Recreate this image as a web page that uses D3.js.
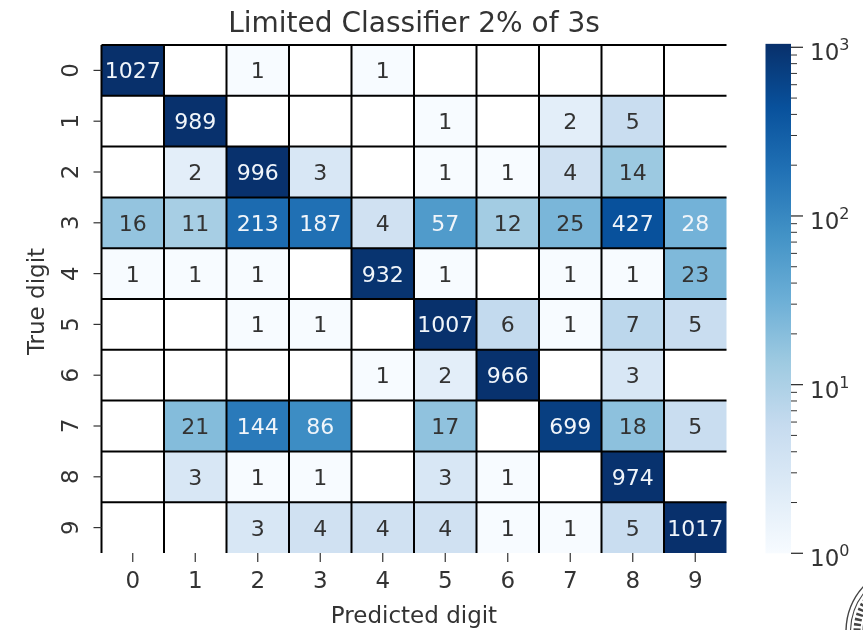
<!DOCTYPE html>
<html><head><meta charset="utf-8">
<script src="https://cdn.jsdelivr.net/npm/d3@7"></script>
<style>html,body{margin:0;padding:0;background:#fff}svg{display:block;filter:blur(0.6px)}text{font-family:"DejaVu Sans",sans-serif;fill:#333}</style>
</head><body><svg id="c" width="863" height="630"></svg>
<script>
const digits=["0","1","2","3","4","5","6","7","8","9"];
const row0=[1027,0,1,0,1,0,0,0,0,0];
const row1=[0,989,0,0,0,1,0,2,5,0];
const row2=[0,2,996,3,0,1,1,4,14,0];
const row3=[16,11,213,187,4,57,12,25,427,28];
const row4=[1,1,1,0,932,1,0,1,1,23];
const row5=[0,0,1,1,0,1007,6,1,7,5];
const row6=[0,0,0,0,1,2,966,0,3,0];
const row7=[0,21,144,86,0,17,0,699,18,5];
const row8=[0,3,1,1,0,3,1,0,974,0];
const row9=[0,0,3,4,4,4,1,1,5,1017];
const rows=[row0,row1,row2,row3,row4,row5,row6,row7,row8,row9];
const blues=["#f7fbff","#deebf7","#c6dbef","#9ecae1","#6baed6","#4292c6","#2171b5","#08519c","#08306b"];
const ramp=d3.scaleLinear().domain(blues.map((_,i)=>i/8)).range(blues).interpolate(d3.interpolateRgb);
const vmax=1027;
const norm=d3.scaleLog().domain([1,vmax]).range([0,1]);
const svg=d3.select("#c");
const L=101.5,R=726.5,T=45,B=553;
const x=d3.scaleBand().domain(digits).range([L,R]);
const y=d3.scaleBand().domain(digits).range([T,B]);
const cells=[];
rows.forEach((r,i)=>r.forEach((v,j)=>cells.push({i,j,v})));
svg.append("g").selectAll("rect").data(cells.filter(d=>d.v>0)).join("rect")
 .attr("x",d=>x(digits[d.j])).attr("y",d=>y(digits[d.i]))
 .attr("width",x.bandwidth()).attr("height",y.bandwidth())
 .attr("fill",d=>ramp(norm(d.v)));
const grid=svg.append("g").attr("stroke","#000").attr("stroke-width",2);
d3.range(0,10).forEach(k=>{
  const yy=T+k*y.step(), xx=L+k*x.step();
  grid.append("line").attr("x1",L).attr("x2",R).attr("y1",yy).attr("y2",yy);
  grid.append("line").attr("x1",xx).attr("x2",xx).attr("y1",T).attr("y2",B);
});
svg.append("g").selectAll("text").data(cells.filter(d=>d.v>0)).join("text")
 .attr("x",d=>x(digits[d.j])+x.bandwidth()/2).attr("y",d=>y(digits[d.i])+y.bandwidth()/2)
 .attr("dy","0.36em").attr("text-anchor","middle").attr("font-size",22)
 .style("fill",d=>norm(d.v)>0.47?"#f0f5fa":"#333").text(d=>d.v);
const ticks=svg.append("g").attr("stroke","#333").attr("stroke-width",1.2);
digits.forEach(d=>{
  const cx=x(d)+x.bandwidth()/2, cy=y(d)+y.bandwidth()/2;
  ticks.append("line").attr("x1",cx).attr("x2",cx).attr("y1",B).attr("y2",B+9);
  ticks.append("line").attr("x1",L-8).attr("x2",L).attr("y1",cy).attr("y2",cy);
  svg.append("text").attr("x",cx).attr("y",B+27).attr("dy","0.36em").attr("text-anchor","middle").attr("font-size",23).text(d);
  svg.append("text").attr("transform",`translate(70,${cy}) rotate(-90)`).attr("dy","0.36em").attr("text-anchor","middle").attr("font-size",23).text(d);
});
svg.append("text").attr("x",414).attr("y",32).attr("text-anchor","middle").attr("font-size",28).text("Limited Classifier 2% of 3s");
svg.append("text").attr("x",414).attr("y",623).attr("text-anchor","middle").attr("font-size",23).text("Predicted digit");
svg.append("text").attr("transform","translate(44,301.5) rotate(-90)").attr("text-anchor","middle").attr("font-size",23).text("True digit");
// colorbar
const cbX=765.5,cbW=25.5;
const cb=d3.scaleLog().domain([1,1000]).range([553.3,47.3]);
const cbT=cb(vmax)-1.5,cbB=cb(1);
const g=svg.append("defs").append("linearGradient").attr("id","cb").attr("x1",0).attr("x2",0).attr("y1",1).attr("y2",0);
blues.forEach((c,i)=>g.append("stop").attr("offset",i/8).attr("stop-color",c));
svg.append("rect").attr("x",cbX).attr("y",cbT).attr("width",cbW).attr("height",cbB-cbT).attr("fill","url(#cb)");
const majors=[1,10,100,1000];
const minors=[2,3,4,5,6,7,8,9,20,30,40,50,60,70,80,90,200,300,400,500,600,700,800,900];
const ct=svg.append("g").attr("stroke","#333");
minors.forEach(v=>ct.append("line").attr("x1",cbX+cbW).attr("x2",cbX+cbW+6).attr("y1",cb(v)).attr("y2",cb(v)).attr("stroke-width",1));
majors.forEach((v,i)=>{
  ct.append("line").attr("x1",cbX+cbW).attr("x2",cbX+cbW+12).attr("y1",cb(v)).attr("y2",cb(v)).attr("stroke-width",1.3);
  const t=svg.append("text").attr("x",810).attr("y",cb(v)+13).attr("font-size",23);
  t.append("tspan").text("10");
  t.append("tspan").attr("font-size",16).attr("dy",-10).text(i);
});
// seal at the page corner
const seal=svg.append("g").attr("fill","none").attr("stroke","#444");
[[68,1.4],[63.5,1.1],[51,1.1]].forEach(s=>seal.append("circle").attr("cx",914).attr("cy",632).attr("r",s[0]).attr("stroke-width",s[1]));
seal.append("circle").attr("cx",914).attr("cy",632).attr("r",57).attr("stroke-width",7).attr("stroke-dasharray","2.5 2.5");
</script></body></html>
